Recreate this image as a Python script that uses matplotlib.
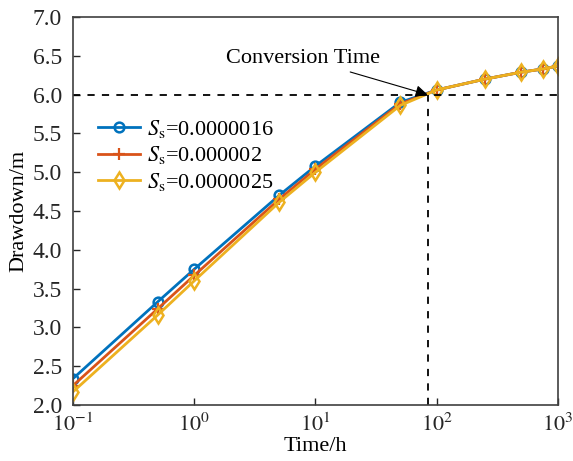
import numpy as np
import matplotlib
matplotlib.use('Agg')
import matplotlib.pyplot as plt

plt.rcParams['font.family'] = ['Liberation Serif', 'DejaVu Serif']
plt.rcParams['mathtext.fontset'] = 'stix'

#### Data ####
time_h = [0.1, 0.5, 1, 5, 10, 50, 100, 250, 500, 750, 1000]
s_1 = [2.34, 3.33, 3.75, 4.70, 5.08, 5.90, 6.06, 6.20, 6.29, 6.33, 6.37]
s_2 = [2.25, 3.24, 3.67, 4.65, 5.04, 5.88, 6.06, 6.20, 6.29, 6.33, 6.37]
s_3 = [2.17, 3.16, 3.60, 4.61, 5.00, 5.86, 6.06, 6.20, 6.29, 6.33, 6.37]
labels = ['$S_{\\rm s}$=0.0000016', '$S_{\\rm s}$=0.000002', '$S_{\\rm s}$=0.0000025']
t_conv = 84
s_conv = 6.0

fig = plt.figure(figsize=(5.73, 4.61), dpi=100)
ax = fig.add_axes([0.1274, 0.1215, 0.8464, 0.8416])

ax.plot(time_h, s_1, color='#0072BD', lw=2, marker='o', ms=7, mfc='none', mew=1.8, label=labels[0])
ax.plot(time_h, s_2, color='#D95319', lw=2, marker='+', ms=8, mew=1.6, label=labels[1])
ax.plot(time_h, s_3, color='#EDB120', lw=2, marker='d', ms=8, mfc='none', mew=1.8, label=labels[2])

#### Conversion time guides ####
ax.plot([0.1, 1000], [s_conv, s_conv], 'k--', lw=1.3, dashes=(4, 4))
ax.plot([t_conv, t_conv], [2.0, s_conv], 'k--', lw=1.3, dashes=(4, 4))
ax.annotate('Conversion Time', xy=(t_conv, s_conv), xytext=(34, 6.47),
            fontsize=16, ha='right', va='center',
            arrowprops=dict(arrowstyle='-|>', color='k', lw=0.8, mutation_scale=18, shrinkA=4, shrinkB=0))

ax.set_xscale('log')
ax.set_xlim(0.1, 1000)
ax.set_ylim(2.0, 7.0)
ax.set_xticks([0.1, 1, 10, 100, 1000])
ax.set_xticklabels(['$10^{-1}$', '$10^{0}$', '$10^{1}$', '$10^{2}$', '$10^{3}$'])
ax.set_yticks(np.arange(2.0, 7.01, 0.5))
ax.set_yticklabels(['%.1f' % v for v in np.arange(2.0, 7.01, 0.5)])
ax.minorticks_off()
ax.tick_params(direction='in', length=5, width=1, colors='#262626')
ax.tick_params(axis='x', pad=6, labelsize=16)
ax.tick_params(axis='y', pad=8, labelsize=17)
for sp in ax.spines.values():
    sp.set_color('#404040')
    sp.set_linewidth(1.2)

ax.set_xlabel('Time/h', fontsize=16, labelpad=1)
ax.set_ylabel('Drawdown/m', fontsize=16, labelpad=3)

ax.legend(loc='upper left', bbox_to_anchor=(0.02, 0.78), frameon=False, fontsize=16,
          handlelength=1.9, handletextpad=0.3, labelspacing=0.2, borderaxespad=0.3)

fig.savefig('out.png', dpi=100)
